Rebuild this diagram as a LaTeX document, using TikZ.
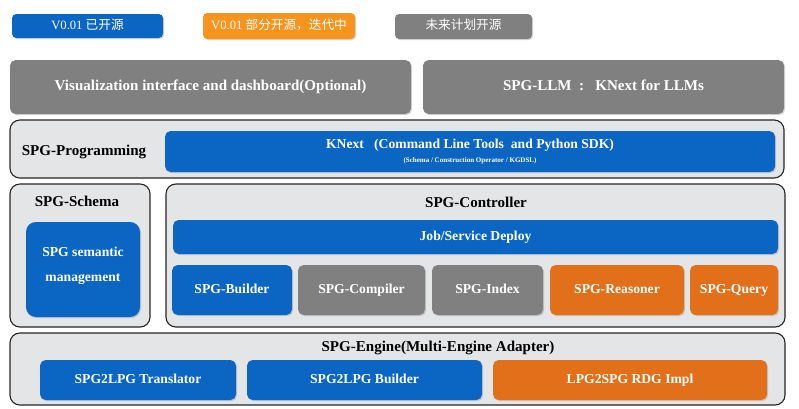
\documentclass[tikz,border=0pt]{standalone}
\usepackage{fontspec}
\setmainfont{Liberation Serif}
\newfontfamily\cjk{Noto Sans CJK SC}
\usetikzlibrary{shadows}
\definecolor{SpgBlue}{HTML}{0B66C3}
\definecolor{SpgOrange}{HTML}{E2701B}
\definecolor{LegendOrange}{HTML}{F7941D}
\definecolor{SpgGray}{HTML}{808080}
\definecolor{PanelFill}{HTML}{E4E5E7}

\begin{document}
\begin{tikzpicture}[x=0.025cm,y=-0.025cm,
  size/.style 2 args={minimum width=#1*0.025cm,minimum height=#2*0.025cm},
  box/.style={rounded corners=4pt,inner sep=0pt,text=white,align=center,
    font=\bfseries\fontsize{9.7}{12}\selectfont,
    drop shadow={opacity=0.3,shadow xshift=0.8pt,shadow yshift=-0.8pt}},
  oneline/.style={text height=0.7em,text depth=0.22em},
  bluebox/.style={box,oneline,fill=SpgBlue},
  orangebox/.style={box,oneline,fill=SpgOrange},
  graybox/.style={box,oneline,fill=SpgGray},
  legend/.style={rounded corners=3pt,inner sep=0pt,text=white,oneline,
    font=\fontsize{9}{10}\selectfont,
    drop shadow={opacity=0.3,shadow xshift=0.8pt,shadow yshift=-0.8pt}},
  panel/.style={draw=black!85,line width=0.8pt,fill=PanelFill,rounded corners=7pt,inner sep=0pt},
  title/.style={font=\bfseries\fontsize{10.7}{12}\selectfont,oneline}]
  \useasboundingbox[fill=white] (0,0) rectangle (799,408);

  % legend
  \node[legend,fill=SpgBlue,size={151}{24}] (legdone) at (87.5,26) {V0.01 {\cjk 已开源}};
  \node[legend,fill=LegendOrange,size={152}{26}] (legpart) at (279,26) {V0.01 {\cjk 部分开源，迭代中}};
  \node[legend,fill=SpgGray,size={137}{25}] (legplan) at (463.5,26.5) {{\cjk 未来计划开源}};

  % top row
  \node[graybox,title,text=white,size={401}{54}] (vis) at (210.5,87) {Visualization interface and dashboard(Optional)};
  \node[graybox,title,text=white,size={361}{54}] (llm) at (603.5,87) {SPG-LLM\ \ :\ \ \ KNext for LLMs};

  % programming
  \node[panel,size={774}{58}] (prog) at (397,149) {};
  \node[title] (progtitle) at (84,152) {SPG-Programming};
  \node[box,fill=SpgBlue,size={610}{41}] (knext) at (470,151.5) {KNext\ \ \ (Command Line Tools\ \ and Python SDK)\\[-2pt]
    {\fontsize{5}{6}\selectfont(Schema / Construction Operator / KGDSL)}};

  % schema
  \node[panel,size={140}{143}] (schema) at (80,255.5) {};
  \node[title] (schematitle) at (77,203) {SPG-Schema};
  \node[box,fill=SpgBlue,rounded corners=7pt,text depth=7pt,size={114}{95}] (semantic) at (83,269.5) {SPG semantic\\[6pt]management};

  % controller
  \node[panel,size={619}{143}] (ctrl) at (475.5,255.5) {};
  \node[title] (ctrltitle) at (476,204) {SPG-Controller};
  \node[bluebox,size={605}{34}] (deploy) at (475.5,237) {Job/Service Deploy};
  \node[bluebox,size={120}{50}] (builder) at (232,290) {SPG-Builder};
  \node[graybox,size={127}{50}] (compiler) at (361.5,290) {SPG-Compiler};
  \node[graybox,size={111}{50}] (index) at (487.5,290) {SPG-Index};
  \node[orangebox,size={134}{50}] (reasoner) at (617,290) {SPG-Reasoner};
  \node[orangebox,size={88}{50}] (query) at (734,290) {SPG-Query};

  % engine
  \node[panel,size={775}{72}] (engine) at (397.5,369) {};
  \node[title] (enginetitle) at (438,348) {SPG-Engine(Multi-Engine Adapter)};
  \node[bluebox,size={196}{40}] (translator) at (138,380) {SPG2LPG Translator};
  \node[bluebox,size={235}{40}] (lpgbuilder) at (364.5,380) {SPG2LPG Builder};
  \node[orangebox,size={274}{40}] (rdg) at (630,380) {LPG2SPG RDG Impl};
\end{tikzpicture}
\end{document}
